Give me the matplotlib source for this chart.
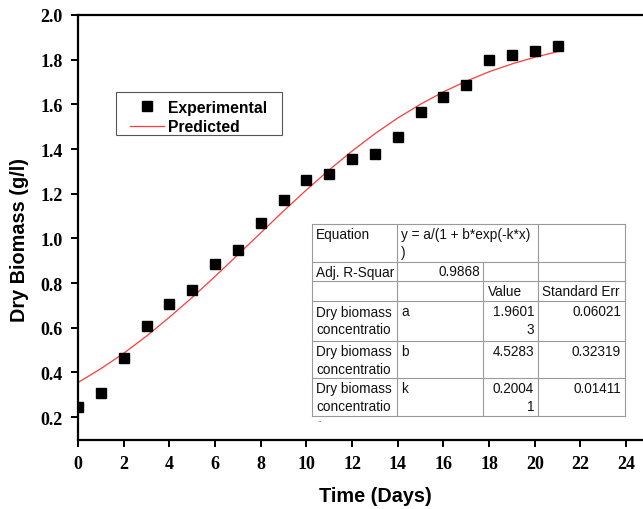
import matplotlib
matplotlib.use('Agg')
import matplotlib.pyplot as plt
from matplotlib.lines import Line2D
from matplotlib.patches import Rectangle

days = [0, 1, 2, 3, 4, 5, 6, 7, 8, 9, 10, 11, 12, 13, 14, 15, 16, 17, 18, 19, 20, 21]
biomass = [0.245, 0.307, 0.464, 0.607, 0.706, 0.768, 0.885, 0.948, 1.069, 1.171, 1.261,
           1.290, 1.355, 1.380, 1.454, 1.566, 1.633, 1.686, 1.798, 1.821, 1.840, 1.861]
# predicted (logistic fit) curve, read at each day
predicted = [0.355, 0.417, 0.486, 0.563, 0.647, 0.736, 0.830, 0.927, 1.025, 1.123, 1.217,
             1.307, 1.391, 1.469, 1.539, 1.601, 1.656, 1.704, 1.746, 1.781, 1.811, 1.836]

xticks = [0, 2, 4, 6, 8, 10, 12, 14, 16, 18, 20, 22, 24]
yticks = [0.2, 0.4, 0.6, 0.8, 1.0, 1.2, 1.4, 1.6, 1.8, 2.0]

# fit report table
table_rows = [
    ['Equation', 'y = a/(1 + b*exp(-k*x)\n)', '', ''],
    ['Adj. R-Squar', '0.9868', '', ''],
    ['', '', 'Value', 'Standard Err'],
    ['Dry biomass\nconcentratio', 'a', '1.9601\n3', '0.06021'],
    ['Dry biomass\nconcentratio', 'b', '4.5283', '0.32319'],
    ['Dry biomass\nconcentratio', 'k', '0.2004\n1', '0.01411'],
]

W, H = 643, 510
fig = plt.figure(figsize=(W / 100, H / 100), dpi=100)
fig.patch.set_facecolor('white')


def fx(px):
    return px / W


def fy(py):
    return 1 - py / H


ax = fig.add_axes([fx(78), fy(440.5), fx(643) - fx(78), fy(16) - fy(440.5)])

ax.plot(days, predicted, color='#ff3b3b', lw=0.9, label='Predicted', zorder=2)
ax.plot(days, biomass, 's', color='black', ms=6.8, label='Experimental', zorder=3)

ax.set_xlim(0, 24.74)
ax.set_ylim(0.1, 2.0)
ax.set_xticks(xticks)
ax.set_yticks(yticks)
ax.set_xticklabels([str(t) for t in xticks])
ax.set_yticklabels(['%.1f' % t for t in yticks])
ax.spines['right'].set_visible(False)
for s in ['left', 'top', 'bottom']:
    ax.spines[s].set_linewidth(1.6)
ax.tick_params(direction='out', length=5, width=1.4, pad=6)
for lab in ax.get_xticklabels() + ax.get_yticklabels():
    lab.set_fontfamily('Liberation Serif')
    lab.set_fontweight('bold')
    lab.set_fontsize(13)

ax.set_xlabel('Time (Days)', fontfamily='Liberation Sans', fontweight='bold', fontsize=14.3)
ax.set_ylabel('Dry Biomass (g/l)', fontfamily='Liberation Sans', fontweight='bold', fontsize=14.3)
ax.xaxis.set_label_coords((375 - 78) / (643 - 78), (440.5 - 497) / (440.5 - 16), transform=ax.transAxes)
ax.yaxis.set_label_coords((20 - 78) / (643 - 78), (440.5 - 240) / (440.5 - 16), transform=ax.transAxes)
ax.xaxis.label.set_verticalalignment('center')
ax.yaxis.label.set_verticalalignment('center')

# legend: frame drawn separately so the side padding can be wider than the top/bottom
fig.add_artist(Rectangle((fx(116), fy(136)), fx(282) - fx(116), fy(93) - fy(136),
                         transform=fig.transFigure, facecolor='white', edgecolor='#555555',
                         lw=0.8, zorder=4))
handles = [Line2D([], [], marker='s', ls='none', color='black', ms=6.8),
           Line2D([], [], color='#ff3b3b', lw=0.9)]
leg = fig.legend(handles, ['Experimental', 'Predicted'], loc='upper left',
                 bbox_to_anchor=(fx(125), fy(96)), frameon=False,
                 handlelength=2.2, handletextpad=0.25, labelspacing=0.3, borderpad=0.3,
                 borderaxespad=0, prop={'family': 'Liberation Sans', 'weight': 'bold', 'size': 11.3})
leg.set_zorder(5)

# table drawn in figure pixel coordinates
col_x = [312, 397, 483, 538, 625]
row_y = [225, 263, 282, 302, 342, 379, 417]
grid = '#9a9a9a'
fig.add_artist(Rectangle((fx(312), fy(417)), fx(625) - fx(312), fy(225) - fy(417),
                         transform=fig.transFigure, facecolor='white', edgecolor='none', zorder=5))
for y in row_y:
    fig.add_artist(Line2D([fx(312), fx(625)], [fy(y), fy(y)], color=grid, lw=0.8, zorder=6))
for i, x in enumerate(col_x):
    top = 263 if i == 2 else 225
    fig.add_artist(Line2D([fx(x), fx(x)], [fy(top), fy(417)], color=grid, lw=0.8, zorder=6))

line_h = 17.5
tprops = dict(family='Liberation Sans', fontsize=9.8, color='#111111', zorder=7)
for r, row in enumerate(table_rows):
    top = row_y[r]
    for c, txt in enumerate(row):
        if not txt:
            continue
        right = (r == 1 and c == 1) or (r >= 3 and c >= 2)
        for k, ln in enumerate(txt.split('\n')):
            if r in (0, 3, 4, 5):
                yc = top + 10.5 + k * line_h
            else:
                yc = (top + row_y[r + 1]) / 2
            if right:
                xpos = 480 if r == 1 else col_x[c + 1] - 4
                fig.text(fx(xpos), fy(yc), ln, ha='right', va='center', **tprops)
            else:
                xpos = col_x[c] + 4 if c != 2 else col_x[c] + 5
                fig.text(fx(xpos), fy(yc), ln, ha='left', va='center', **tprops)

# clipped third line ("concentration") showing as dots under the table
fig.text(fx(317), fy(420), '..', ha='left', va='center', fontsize=5, color='#555555', zorder=7)

fig.savefig('out.png', dpi=100)
